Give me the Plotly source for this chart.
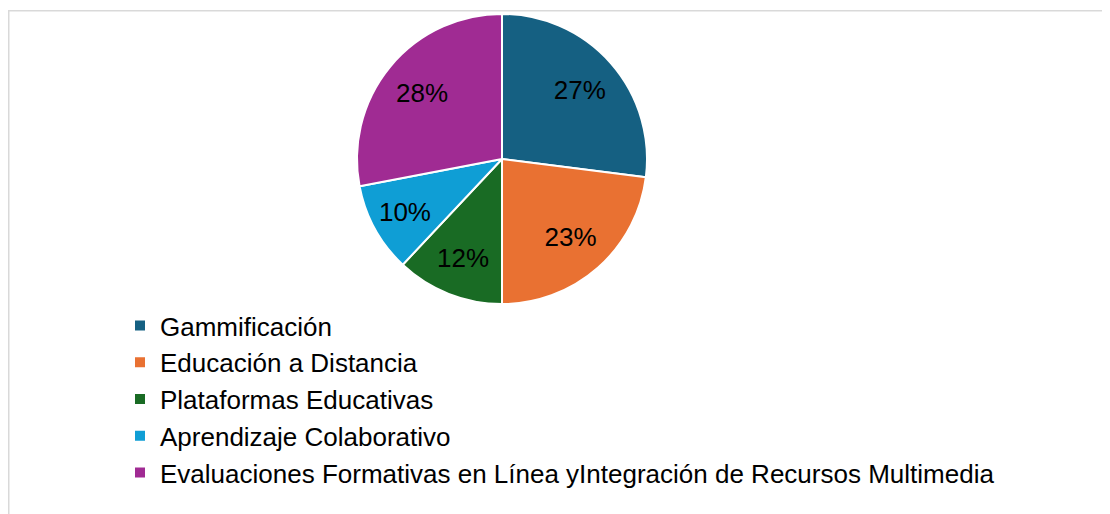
import plotly.graph_objects as go

categories = [
    "Gammificación",
    "Educación a Distancia",
    "Plataformas Educativas",
    "Aprendizaje Colaborativo",
    "Evaluaciones Formativas en Línea yIntegración de Recursos Multimedia",
]
values = [27, 23, 12, 10, 28]
colors = ["#156082", "#E97132", "#196B24", "#0F9ED5", "#A02B93"]

# the page has an 8px body margin, so the figure is sized to the visible area
W, H = 1102, 506
FONT = "Arial, 'Liberation Sans', sans-serif"

pie_domain = dict(x=[349 / W, 639 / W], y=[1 - 296 / H, 1 - 6 / H])

fig = go.Figure()

# coloured slices
fig.add_trace(
    go.Pie(
        labels=categories,
        values=values,
        sort=False,
        direction="clockwise",
        rotation=0,
        marker=dict(colors=colors, line=dict(color="white", width=2)),
        textinfo="none",
        domain=pie_domain,
        hoverinfo="label+percent",
        showlegend=True,
    )
)

# percentage labels (transparent ring so labels sit further out, like the original)
fig.add_trace(
    go.Pie(
        labels=categories,
        values=values,
        sort=False,
        direction="clockwise",
        rotation=0,
        hole=0.43,
        marker=dict(colors=["rgba(0,0,0,0)"] * len(values), line=dict(width=0)),
        texttemplate="%{percent:.0%}",
        textposition="inside",
        insidetextorientation="horizontal",
        textfont=dict(family=FONT, size=26, color="black"),
        domain=pie_domain,
        hoverinfo="skip",
        showlegend=False,
    )
)

fig.update_layout(
    width=W,
    height=H,
    margin=dict(l=0, r=0, t=0, b=0),
    paper_bgcolor="white",
    plot_bgcolor="white",
    font=dict(family=FONT, size=26, color="black"),
    uniformtext=dict(minsize=26, mode="show"),
    showlegend=True,
    legend=dict(
        x=112 / W,
        y=1 - 294 / H,
        xanchor="left",
        yanchor="top",
        font=dict(family=FONT, size=26, color="black"),
        bgcolor="rgba(0,0,0,0)",
        traceorder="normal",
    ),
    shapes=[
        dict(
            type="rect",
            xref="paper",
            yref="paper",
            x0=0.75 / W,
            x1=1.02,
            y0=-0.02,
            y1=1 - 2.75 / H,
            line=dict(color="#D9D9D9", width=1.5),
            fillcolor="rgba(0,0,0,0)",
            layer="below",
        )
    ],
)

fig.write_html("out.html")
